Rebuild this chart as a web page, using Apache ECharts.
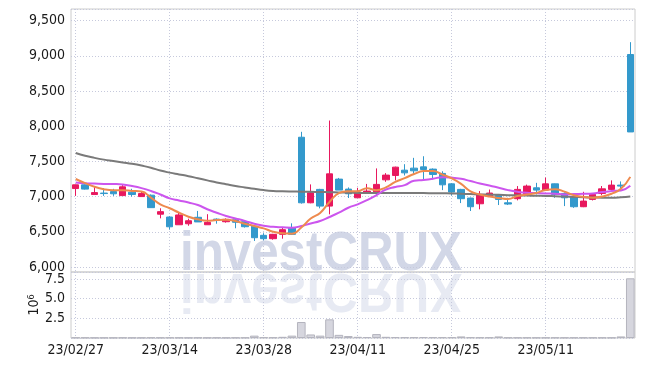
<!DOCTYPE html>
<html><head><meta charset="utf-8">
<script src="https://cdn.jsdelivr.net/npm/echarts@6/dist/echarts.min.js"></script>
<style>html,body{margin:0;padding:0;background:#fff}#c{width:645px;height:366px}</style>
</head><body><div id="c"></div><script>
const dates = ['23/02/27','23/02/28','23/03/02','23/03/03','23/03/06','23/03/07','23/03/08','23/03/09','23/03/10','23/03/13',
'23/03/14','23/03/15','23/03/16','23/03/17','23/03/20','23/03/21','23/03/22','23/03/23','23/03/24','23/03/27',
'23/03/28','23/03/29','23/03/30','23/03/31','23/04/03','23/04/04','23/04/05','23/04/06','23/04/07','23/04/10',
'23/04/11','23/04/12','23/04/13','23/04/14','23/04/17','23/04/18','23/04/19','23/04/20','23/04/21','23/04/24',
'23/04/25','23/04/26','23/04/27','23/04/28','23/05/02','23/05/03','23/05/04','23/05/08','23/05/09','23/05/10',
'23/05/11','23/05/12','23/05/15','23/05/16','23/05/17','23/05/18','23/05/19','23/05/22','23/05/23','23/05/24'];
const opens  = [7114,7167,7029,7050,7071,7014,7063,7000,7020,6750,6710,6600,6614,6706,6600,6680,6643,6670,6643,6580,6450,6402,6464,6558,7843,6912,7102,6865,7248,7106,6983,7045,7068,7238,7300,7375,7404,7422,7390,7329,7181,7102,6979,6898,7011,7017,6912,6970,7040,7125,7092,7181,7045,6997,6856,6960,7045,7102,7163,9018];
const closes = [7167,7106,7057,7043,7040,7139,7029,7043,6843,6786,6571,6739,6657,6640,6634,6665,6677,6635,6572,6416,6402,6464,6530,6464,6912,7054,6865,7323,7092,7040,7064,7078,7173,7305,7418,7337,7366,7385,7314,7167,7064,6970,6856,7031,7050,6960,6894,7102,7149,7092,7181,7031,6983,6856,6936,7031,7110,7163,7149,7918];
const lows   = [7010,7100,7029,7010,7010,7014,7000,7000,6840,6691,6530,6600,6586,6639,6600,6615,6630,6550,6560,6370,6380,6388,6402,6455,6900,6905,6833,6748,7092,6980,6983,7040,7005,7210,7230,7300,7314,7244,7244,7092,7015,6908,6795,6819,7000,6880,6880,6946,7030,7030,7080,6983,6865,6840,6850,6945,7020,7078,7102,7918];
const highs  = [7170,7175,7150,7120,7110,7163,7110,7071,7030,6834,6720,6780,6686,6796,6750,6690,6690,6680,6650,6590,6480,6470,6560,6620,7920,7173,7110,8080,7265,7130,7125,7180,7400,7333,7425,7460,7550,7573,7400,7360,7190,7110,6985,7078,7100,7020,6983,7149,7170,7195,7270,7185,7060,7030,7068,7040,7150,7230,7215,9193];
const ma5  = [7250,7191,7139,7105,7091,7091,7081,7071,6986,6890,6834,6771,6714,6677,6657,6667,6671,6653,6615,6582,6549,6501,6478,6473,6560,6688,6768,6924,7049,7075,7077,7119,7089,7132,7208,7262,7320,7362,7364,7314,7259,7180,7074,7030,7000,6980,6965,7007,7031,7050,7095,7105,7070,7020,6997,6985,7000,7040,7110,7280];
const ma20 = [7200,7190,7185,7180,7178,7172,7150,7120,7080,7030,6975,6945,6915,6880,6820,6770,6724,6690,6655,6615,6585,6570,6563,6558,6582,6618,6653,6710,6771,6841,6890,6950,7021,7100,7135,7163,7225,7235,7252,7276,7270,7252,7220,7187,7158,7125,7092,7068,7054,7050,7045,7040,7031,7035,7040,7045,7064,7078,7088,7155];
const ma60 = [7620,7580,7550,7525,7505,7485,7465,7440,7410,7370,7340,7315,7290,7260,7230,7200,7175,7150,7130,7110,7092,7080,7075,7072,7070,7068,7065,7062,7058,7055,7052,7050,7050,7050,7050,7050,7050,7050,7048,7046,7045,7040,7035,7030,7028,7025,7020,7018,7015,7012,7010,7005,7000,6995,6990,6988,6985,6985,6990,7000];
const volumes = [0.06,0.05,0.04,0.04,0.04,0.05,0.04,0.04,0.06,0.05,0.06,0.05,0.04,0.05,0.04,0.05,0.04,0.05,0.06,0.3,0.1,0.08,0.15,0.3,2.03,0.45,0.3,2.37,0.4,0.25,0.15,0.12,0.5,0.15,0.12,0.1,0.1,0.12,0.1,0.1,0.1,0.2,0.1,0.08,0.08,0.2,0.06,0.06,0.06,0.05,0.05,0.06,0.05,0.05,0.05,0.05,0.05,0.05,0.2,7.58];
const priceTicks = {min: 5929, max: 9664};
const volTicks = {min: 0, max: 8.38, interval: 2.5};
const volumeUnit = '10{sup|6}';
const watermark = 'investCRUX';

const FONT = '"Liberation Sans Narrow", "DejaVu Sans Condensed", "Roboto", sans-serif';
const WM_FONT = 'bold 56px "Liberation Sans", sans-serif';
const UP = '#e8185e', DOWN = '#3399cc';
const gridLine = {color: '#c6c9dc', type: [1, 2], width: 1};

const candles = dates.map((d, i) => [opens[i], closes[i], lows[i], highs[i]]);
const chart = echarts.init(document.getElementById('c'), null, {renderer: 'canvas'});
chart.setOption({
  animation: false,
  backgroundColor: '#fff',
  grid: [
    {left: 71, top: 9, width: 564, height: 263, show: true, borderColor: '#cccccc', borderWidth: 1, backgroundColor: 'transparent'},
    {left: 71, top: 272, width: 564, height: 66, show: true, borderColor: '#cccccc', borderWidth: 1, backgroundColor: 'transparent'}
  ],
  graphic: [
    {type: 'text', z: -10, x: 180, y: 272, scaleX: 0.88, silent: true,
     style: {text: watermark, x: 0, y: 11, textVerticalAlign: 'bottom', font: WM_FONT, fill: '#d2d7e7'}},
    {type: 'text', z: -10, x: 180, y: 272, scaleX: 0.88, scaleY: -1, silent: true,
     style: {text: watermark, x: 0, y: 11, textVerticalAlign: 'bottom', font: WM_FONT, fill: 'rgba(208,214,231,0.5)'}}
  ],
  xAxis: [
    {type: 'category', gridIndex: 0, data: dates, boundaryGap: true,
     axisLine: {show: false}, axisTick: {show: false}, axisLabel: {show: false},
     splitLine: {show: true, interval: 9, alignWithLabel: true, lineStyle: gridLine}},
    {type: 'category', gridIndex: 1, data: dates, boundaryGap: true,
     axisLine: {show: false}, axisTick: {show: false},
     axisLabel: {show: true, interval: 9, fontFamily: FONT, fontSize: 14, color: '#1a1a1a', margin: 5},
     splitLine: {show: true, interval: 9, alignWithLabel: true, lineStyle: gridLine}}
  ],
  yAxis: [
    {type: 'value', gridIndex: 0, min: priceTicks.min, max: priceTicks.max, splitNumber: 7,
     axisLine: {show: false}, axisTick: {show: false},
     axisLabel: {showMinLabel: false, showMaxLabel: false, fontFamily: FONT, fontSize: 14, color: '#1a1a1a', margin: 6,
       formatter: v => Math.round(v).toLocaleString('en-US')},
     splitLine: {show: true, lineStyle: gridLine}},
    {type: 'value', gridIndex: 1, min: volTicks.min, max: volTicks.max, interval: volTicks.interval,
     axisLine: {show: false}, axisTick: {show: false},
     name: volumeUnit, nameLocation: 'middle', nameRotate: 90, nameGap: 30, nameMoveOverlap: false,
     nameTextStyle: {fontFamily: FONT, fontSize: 14, color: '#1a1a1a', rich: {sup: {fontSize: 9, verticalAlign: 'top', fontFamily: FONT, color: '#1a1a1a'}}},
     axisLabel: {showMinLabel: false, showMaxLabel: false, fontFamily: FONT, fontSize: 14, color: '#1a1a1a', margin: 6,
       formatter: v => v.toFixed(1)},
     splitLine: {show: true, lineStyle: gridLine}}
  ],
  series: [
    {type: 'candlestick', xAxisIndex: 0, yAxisIndex: 0, data: candles, barWidth: '72%', z: 2,
     itemStyle: {color: UP, color0: DOWN, borderColor: UP, borderColor0: DOWN, borderColorDoji: UP, borderWidth: 1}},
    {type: 'line', xAxisIndex: 0, yAxisIndex: 0, data: ma60, smooth: true, showSymbol: false, z: 3,
     lineStyle: {color: '#7a7a7a', width: 2}},
    {type: 'line', xAxisIndex: 0, yAxisIndex: 0, data: ma20, smooth: true, showSymbol: false, z: 3,
     lineStyle: {color: '#cc55ee', width: 2}},
    {type: 'line', xAxisIndex: 0, yAxisIndex: 0, data: ma5, smooth: true, showSymbol: false, z: 4,
     lineStyle: {color: '#ee8a4e', width: 2}},
    {type: 'bar', xAxisIndex: 1, yAxisIndex: 1, data: volumes, barCategoryGap: '8%', z: 2,
     itemStyle: {color: '#d6d6de', borderColor: '#b4b4be', borderWidth: 1}}
  ]
});
</script></body></html>
